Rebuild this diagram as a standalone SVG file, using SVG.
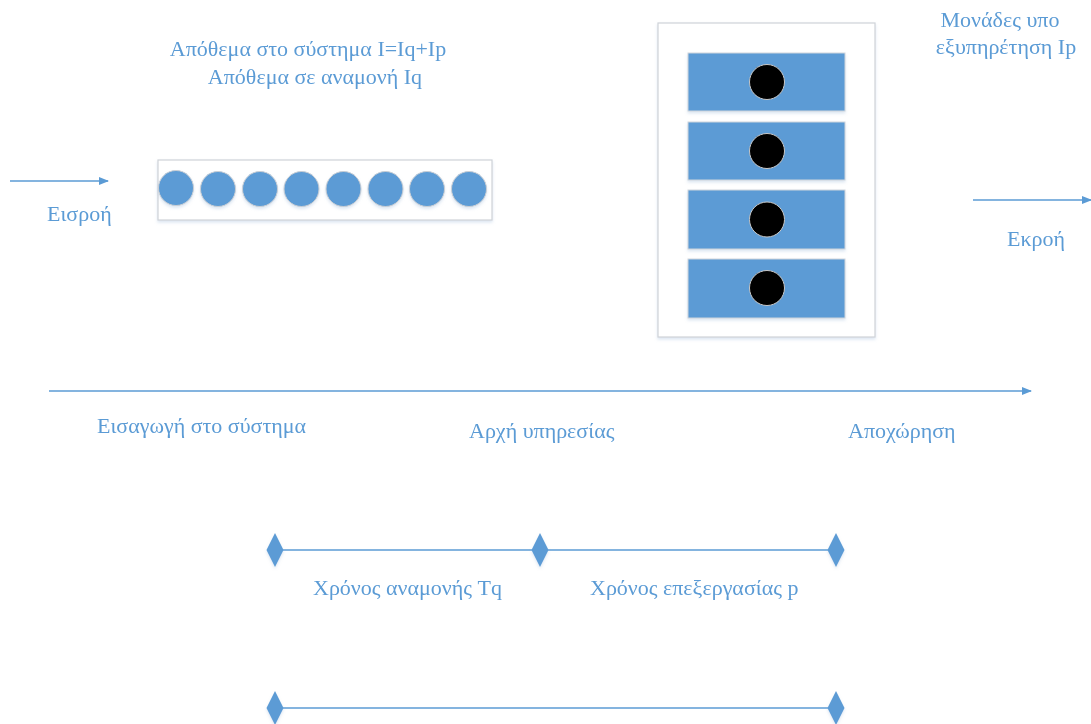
<svg xmlns="http://www.w3.org/2000/svg" width="1091" height="724" viewBox="0 0 1091 724">
  <style>
    .lbl { font-family: "Liberation Serif", "Times New Roman", serif; font-size: 22px; fill: #5B9BD5; }
    .frame { fill: #FFFFFF; stroke: #CFD3D8; stroke-width: 1.2; }
    .unit { fill: #5B9BD5; stroke: #D0D5DB; stroke-width: 1; }
    .item { fill: #5B9BD5; stroke: #C9CED4; stroke-width: 1; }
    .job { fill: #000000; stroke: #C8C8C8; stroke-width: 1; }
    .conn { stroke: #5B9BD5; stroke-width: 1.3; fill: none; }
    .mark { fill: #5B9BD5; }
  </style>
  <defs>
    <marker id="arrow" viewBox="0 0 10 10" refX="9" refY="5" markerWidth="10" markerHeight="10" markerUnits="userSpaceOnUse" orient="auto">
      <path d="M0,1 L10,5 L0,9 Z" fill="#5B9BD5"/>
    </marker>
    <filter id="soft" x="-10%" y="-10%" width="120%" height="130%">
      <feDropShadow dx="0" dy="2" stdDeviation="1.5" flood-color="#9DB8D9" flood-opacity="0.35"/>
    </filter>
    <polygon id="diamond" points="0,-17 8.5,0 0,17 -8.5,0" class="mark"/>
  </defs>

  <rect width="1091" height="724" fill="#FFFFFF"/>

  <!-- queue of waiting items -->
  <g id="queue">
    <rect class="frame" x="158" y="160" width="334" height="60" filter="url(#soft)"/>
    <g filter="url(#soft)">
      <circle class="item" cx="176" cy="188" r="17.5"/>
      <circle class="item" cx="218" cy="189" r="17.5"/>
      <circle class="item" cx="260" cy="189" r="17.5"/>
      <circle class="item" cx="301.5" cy="189" r="17.5"/>
      <circle class="item" cx="343.5" cy="189" r="17.5"/>
      <circle class="item" cx="385.5" cy="189" r="17.5"/>
      <circle class="item" cx="427" cy="189" r="17.5"/>
      <circle class="item" cx="469" cy="189" r="17.5"/>
    </g>
  </g>

  <!-- service units -->
  <g id="servers">
    <rect class="frame" x="658" y="23" width="217" height="314" filter="url(#soft)"/>
    <g id="unit1">
      <rect class="unit" x="688" y="53" width="157" height="58" filter="url(#soft)"/>
      <circle class="job" cx="767" cy="82" r="17.5"/>
    </g>
    <g id="unit2">
      <rect class="unit" x="688" y="122" width="157" height="58" filter="url(#soft)"/>
      <circle class="job" cx="767" cy="151" r="17.5"/>
    </g>
    <g id="unit3">
      <rect class="unit" x="688" y="190" width="157" height="59" filter="url(#soft)"/>
      <circle class="job" cx="767" cy="219.5" r="17.5"/>
    </g>
    <g id="unit4">
      <rect class="unit" x="688" y="259" width="157" height="59" filter="url(#soft)"/>
      <circle class="job" cx="767" cy="288" r="17.5"/>
    </g>
  </g>

  <!-- connectors -->
  <g id="connectors">
    <line class="conn" x1="10" y1="181" x2="108" y2="181" marker-end="url(#arrow)"/>
    <line class="conn" x1="973" y1="200" x2="1091" y2="200" marker-end="url(#arrow)"/>
    <line class="conn" x1="49" y1="391" x2="1031" y2="391" marker-end="url(#arrow)"/>
    <line class="conn" x1="275" y1="550" x2="836" y2="550"/>
    <line class="conn" x1="275" y1="708" x2="836" y2="708"/>
  </g>

  <!-- time markers -->
  <g id="markers" filter="url(#soft)">
    <use href="#diamond" x="275" y="550"/>
    <use href="#diamond" x="540" y="550"/>
    <use href="#diamond" x="836" y="550"/>
    <use href="#diamond" x="275" y="708"/>
    <use href="#diamond" x="836" y="708"/>
  </g>

  <!-- labels -->
  <g id="labels">
    <text class="lbl" x="308" y="56" text-anchor="middle">Απόθεμα στο σύστημα I=Iq+Ip</text>
    <text class="lbl" x="315" y="84" text-anchor="middle">Απόθεμα σε αναμονή Iq</text>
    <text class="lbl" x="1000" y="27" text-anchor="middle">Μονάδες υπο</text>
    <text class="lbl" x="1006" y="54" text-anchor="middle">εξυπηρέτηση Ip</text>
    <text class="lbl" x="47" y="221">Εισροή</text>
    <text class="lbl" x="1007" y="246">Εκροή</text>
    <text class="lbl" x="97" y="433">Εισαγωγή στο σύστημα</text>
    <text class="lbl" x="469" y="438">Αρχή υπηρεσίας</text>
    <text class="lbl" x="848" y="438">Αποχώρηση</text>
    <text class="lbl" x="313" y="595">Χρόνος αναμονής Tq</text>
    <text class="lbl" x="590" y="595">Χρόνος επεξεργασίας p</text>
  </g>
</svg>
